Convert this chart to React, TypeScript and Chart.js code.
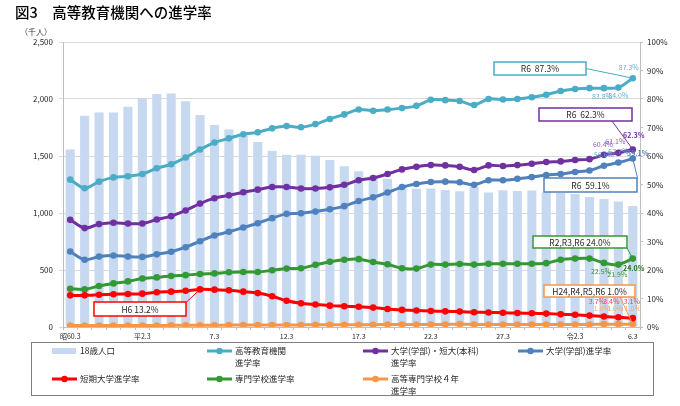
import React, { useEffect, useRef } from 'react';
import { Chart, registerables } from 'chart.js';

Chart.register(...registerables);

const FONT = '"Noto Sans CJK JP", "Noto Sans", sans-serif';

// 年度（3月卒業）
const categories = [
    '昭60.3', '61.3', '62.3', '63.3', '元.3', '平2.3', '3.3', '4.3', '5.3', '6.3',
    '7.3', '8.3', '9.3', '10.3', '11.3', '12.3', '13.3', '14.3', '15.3', '16.3',
    '17.3', '18.3', '19.3', '20.3', '21.3', '22.3', '23.3', '24.3', '25.3', '26.3',
    '27.3', '28.3', '29.3', '30.3', '31.3', '令2.3', '3.3', '4.3', '5.3', '6.3',
];
const shownTicks = [0, 5, 10, 15, 20, 25, 30, 35, 39];

// 18歳人口（千人）
const population = [
    1556, 1853, 1882, 1882, 1932, 2005, 2044, 2049, 1981, 1859,
    1773, 1732, 1680, 1622, 1545, 1510, 1511, 1502, 1465, 1411,
    1366, 1326, 1300, 1237, 1212, 1215, 1201, 1190, 1231, 1180,
    1200, 1193, 1198, 1180, 1175, 1167, 1141, 1122, 1100, 1061,
];

// 進学率（%）
const higherEdRate = [
    51.7, 48.7, 51.0, 52.5, 52.9, 53.7, 55.7, 57.1, 59.5, 62.3,
    64.7, 66.2, 67.6, 68.3, 69.7, 70.5, 70.1, 71.2, 73.0, 74.6,
    76.3, 75.9, 76.3, 76.8, 77.6, 79.7, 79.6, 79.3, 77.9, 80.0,
    79.8, 80.0, 80.6, 81.5, 82.8, 83.5, 83.8, 83.8, 84.0, 87.3,
];
const univJuniorRate = [
    37.6, 34.7, 36.1, 36.6, 36.3, 36.3, 37.7, 38.9, 40.9, 43.3,
    45.2, 46.2, 47.3, 48.2, 49.1, 49.1, 48.6, 48.6, 49.0, 49.9,
    51.5, 52.3, 53.7, 55.3, 56.2, 56.8, 56.7, 56.2, 55.1, 56.7,
    56.5, 56.8, 57.3, 57.9, 58.1, 58.6, 58.9, 60.4, 61.1, 62.3,
];
const univRate = [
    26.5, 23.6, 24.7, 25.1, 24.7, 24.6, 25.5, 26.4, 28.0, 30.1,
    32.1, 33.4, 34.9, 36.4, 38.2, 39.7, 39.9, 40.5, 41.3, 42.4,
    44.2, 45.5, 47.2, 49.1, 50.2, 50.9, 51.0, 50.8, 49.9, 51.5,
    51.5, 52.0, 52.6, 53.3, 53.7, 54.4, 54.9, 56.6, 57.7, 59.1,
];
const juniorCollegeRate = [
    11.1, 11.1, 11.3, 11.5, 11.6, 11.7, 12.2, 12.4, 12.7, 13.2,
    13.1, 12.9, 12.4, 11.9, 10.8, 9.2, 8.3, 7.9, 7.5, 7.3,
    7.1, 6.8, 6.3, 6.0, 5.8, 5.6, 5.5, 5.4, 5.2, 5.1,
    5.0, 4.9, 4.8, 4.7, 4.5, 4.3, 4.0, 3.7, 3.4, 3.1,
];
const vocationalRate = [
    13.4, 13.2, 14.4, 15.3, 16.0, 17.0, 17.4, 17.9, 18.2, 18.6,
    18.8, 19.2, 19.3, 19.3, 19.9, 20.5, 20.6, 21.8, 22.9, 23.6,
    23.8, 22.8, 22.0, 20.6, 20.5, 21.9, 21.9, 22.1, 21.9, 22.2,
    22.2, 22.2, 22.2, 22.4, 23.6, 24.0, 24.0, 22.5, 21.9, 24.0,
];
const kosenRate = [
    0.5, 0.5, 0.5, 0.5, 0.5, 0.5, 0.5, 0.6, 0.6, 0.6,
    0.6, 0.7, 0.7, 0.7, 0.7, 0.7, 0.7, 0.8, 0.8, 0.8,
    0.8, 0.8, 0.9, 0.9, 0.9, 0.9, 0.9, 1.0, 0.9, 0.9,
    0.9, 0.9, 0.9, 0.9, 0.9, 0.9, 0.9, 1.0, 1.0, 1.0,
];

const BAR_COLOR = '#c6d9f1';
const lineSeries = [
    { label: '高等教育機関進学率', data: higherEdRate, color: '#4bacc6' },
    { label: '大学(学部)・短大(本科)進学率', data: univJuniorRate, color: '#7030a0' },
    { label: '大学(学部)進学率', data: univRate, color: '#4f81bd' },
    { label: '短期大学進学率', data: juniorCollegeRate, color: '#ff0000' },
    { label: '専門学校進学率', data: vocationalRate, color: '#339933' },
    { label: '高等専門学校４年進学率', data: kosenRate, color: '#f79646' },
];

// dataset index: 0 = bars, 1.. = lineSeries
const callouts = [
    { ds: 1, idx: 39, prefix: 'R6  ', box: [494, 62, 92, 13], anchor: [586, 68.5] },
    { ds: 2, idx: 39, prefix: 'R6  ', box: [539, 108, 93, 13], anchor: [612, 121] },
    { ds: 3, idx: 39, prefix: 'R6  ', box: [544, 178, 93, 14], anchor: [637.5, 178] },
    { ds: 5, idx: 39, prefix: 'R2,R3,R6 ', box: [533, 236, 94, 12], anchor: [627, 248] },
    { ds: 6, idx: 39, prefix: 'H24,R4,R5,R6 ', box: [544, 285, 91, 12], anchor: [620, 297] },
    { ds: 4, idx: 9, prefix: 'H6 ', box: [94, 302, 92, 14], anchor: [186.5, 302] },
];

const pointLabels = [
    { ds: 1, idx: 37, dx: -2, dy: 8, color: '#62b3cf' },
    { ds: 1, idx: 38, dx: 0, dy: 8, color: '#62b3cf' },
    { ds: 1, idx: 39, dx: -4, dy: -11, color: '#62b3cf' },
    { ds: 2, idx: 37, dx: -1, dy: -11, color: '#8a5cbf' },
    { ds: 2, idx: 38, dx: -3, dy: -12, color: '#8a5cbf' },
    { ds: 2, idx: 39, dx: 1, dy: -14, color: '#7030a0', bold: true },
    { ds: 3, idx: 37, dx: 0, dy: -11, color: '#6f9fd8' },
    { ds: 3, idx: 38, dx: 0, dy: -11, color: '#6f9fd8' },
    { ds: 3, idx: 39, dx: 5, dy: -5, color: '#4f81bd', bold: true },
    { ds: 5, idx: 37, dx: -3, dy: 8, color: '#3a913a' },
    { ds: 5, idx: 38, dx: -1, dy: 10, color: '#3a913a' },
    { ds: 5, idx: 39, dx: 1, dy: 10, color: '#1f6f1f', bold: true },
    { ds: 4, idx: 37, dx: -7, dy: -15, color: '#e8474d' },
    { ds: 4, idx: 38, dx: -7, dy: -16, color: '#e8474d' },
    { ds: 4, idx: 39, dx: -1, dy: -17, color: '#e8474d' },
    { ds: 6, idx: 37, dx: -2, dy: -16, color: '#f6a35c' },
    { ds: 6, idx: 38, dx: -3, dy: -16, color: '#f6a35c' },
    { ds: 6, idx: 39, dx: 0, dy: -16, color: '#f6a35c' },
];

// legend: [column, row, text lines, series (-1 = bars)]
const legendItems: [number, number, string[], number][] = [
    [0, 0, ['18歳人口'], -1],
    [1, 0, ['高等教育機関', '進学率'], 0],
    [2, 0, ['大学(学部)・短大(本科)', '進学率'], 1],
    [3, 0, ['大学(学部)進学率'], 2],
    [0, 1, ['短期大学進学率'], 3],
    [1, 1, ['専門学校進学率'], 4],
    [2, 1, ['高等専門学校４年', '進学率'], 5],
];
const legendCols = [52, 207, 363, 518];
const legendRows = [351, 379];

const pct = (v: number) => `${v.toFixed(1)}%`;

const overlayPlugin = {
    id: 'overlay',
    afterDatasetsDraw(chart: any) {
        const ctx = chart.ctx as CanvasRenderingContext2D;
        const point = (ds: number, i: number) => chart.getDatasetMeta(ds).data[i];

        ctx.save();
        // callout boxes with leader lines
        for (const c of callouts) {
            const p = point(c.ds, c.idx);
            const color = lineSeries[c.ds - 1].color;
            const value = lineSeries[c.ds - 1].data[c.idx];
            ctx.strokeStyle = color;
            ctx.lineWidth = 1;
            ctx.beginPath();
            ctx.moveTo(c.anchor[0], c.anchor[1]);
            ctx.lineTo(p.x, p.y);
            ctx.stroke();
            const [bx, by, bw, bh] = c.box;
            ctx.fillStyle = '#ffffff';
            ctx.fillRect(bx, by, bw, bh);
            ctx.lineWidth = 1.5;
            ctx.strokeRect(bx, by, bw, bh);
            ctx.fillStyle = '#262626';
            ctx.font = `8.5px ${FONT}`;
            ctx.textAlign = 'center';
            ctx.textBaseline = 'middle';
            ctx.fillText(c.prefix + pct(value), bx + bw / 2, by + bh / 2 + 0.5);
        }

        // small value labels
        for (const l of pointLabels) {
            const p = point(l.ds, l.idx);
            const value = lineSeries[l.ds - 1].data[l.idx];
            ctx.fillStyle = l.color;
            ctx.font = `${l.bold ? 'bold ' : ''}7px ${FONT}`;
            ctx.textAlign = 'center';
            ctx.textBaseline = 'middle';
            ctx.fillText(pct(value), p.x + l.dx, p.y + l.dy);
        }
        ctx.restore();
    },
    afterDraw(chart: any) {
        const ctx = chart.ctx as CanvasRenderingContext2D;
        ctx.save();
        // title and unit
        ctx.fillStyle = '#000000';
        ctx.font = `500 14.5px ${FONT}`;
        ctx.textAlign = 'left';
        ctx.textBaseline = 'middle';
        ctx.fillText('図3　高等教育機関への進学率', 15, 12);
        ctx.fillStyle = '#404040';
        ctx.font = `8px ${FONT}`;
        ctx.fillText('（千人）', 20, 32);

        // legend frame
        ctx.strokeStyle = '#7f7f7f';
        ctx.lineWidth = 1;
        ctx.strokeRect(31.5, 342.5, 622, 53);

        for (const [col, row, lines, s] of legendItems) {
            const x = legendCols[col];
            const y = legendRows[row];
            if (s < 0) {
                ctx.fillStyle = BAR_COLOR;
                ctx.fillRect(x, y - 3, 24, 6);
            } else {
                const color = lineSeries[s].color;
                ctx.strokeStyle = color;
                ctx.lineWidth = 3;
                ctx.beginPath();
                ctx.moveTo(x, y);
                ctx.lineTo(x + 25, y);
                ctx.stroke();
                ctx.fillStyle = color;
                ctx.beginPath();
                ctx.arc(x + 12.5, y, 3.2, 0, Math.PI * 2);
                ctx.fill();
            }
            ctx.fillStyle = '#262626';
            ctx.font = `8.5px ${FONT}`;
            ctx.textAlign = 'left';
            ctx.textBaseline = 'middle';
            lines.forEach((t, k) => ctx.fillText(t, x + 28, y + k * 11.5));
        }
        ctx.restore();
    },
};

const App: React.FC = () => {
    const canvasRef = useRef<HTMLCanvasElement | null>(null);
    const chartRef = useRef<Chart | null>(null);

    useEffect(() => {
        if (!canvasRef.current) return;
        if (chartRef.current) chartRef.current.destroy();

        const datasets: any[] = [
            {
                type: 'bar',
                label: '18歳人口',
                data: population,
                backgroundColor: BAR_COLOR,
                barPercentage: 0.63,
                categoryPercentage: 1,
                yAxisID: 'y',
                order: 10,
            },
            ...lineSeries.map((s) => ({
                type: 'line',
                label: s.label,
                data: s.data,
                borderColor: s.color,
                backgroundColor: s.color,
                borderWidth: 3,
                pointRadius: 3.3,
                pointBorderWidth: 0,
                pointBackgroundColor: s.color,
                tension: 0.3,
                yAxisID: 'y1',
                order: 1,
            })),
        ];

        chartRef.current = new Chart(canvasRef.current, {
            type: 'bar',
            data: { labels: categories, datasets },
            options: {
                responsive: false,
                animation: false,
                layout: { padding: { top: 42, bottom: 63, left: 0, right: 0 } },
                plugins: { legend: { display: false }, tooltip: { enabled: false } },
                scales: {
                    x: {
                        afterFit: (s: any) => { s.height = 16; },
                        grid: { drawOnChartArea: false, drawTicks: true, tickLength: 3, color: '#bfbfbf' },
                        border: { color: '#bfbfbf' },
                        ticks: {
                            autoSkip: false,
                            maxRotation: 0,
                            padding: 2,
                            color: '#262626',
                            font: { family: FONT, size: 7 },
                            callback: (_v: any, i: number) => (shownTicks.includes(i) ? categories[i] : ''),
                        },
                    },
                    y: {
                        position: 'left',
                        min: 0,
                        max: 2500,
                        afterFit: (s: any) => { s.width = 63; },
                        grid: { color: '#d9d9d9', tickLength: 4 },
                        border: { color: '#bfbfbf' },
                        ticks: {
                            stepSize: 500,
                            padding: 6,
                            color: '#262626',
                            font: { family: FONT, size: 8 },
                            callback: (v: any) => Number(v).toLocaleString('en-US'),
                        },
                    },
                    y1: {
                        position: 'right',
                        min: 0,
                        max: 100,
                        afterFit: (s: any) => { s.width = 40; },
                        grid: { drawOnChartArea: false, tickLength: 3, color: '#bfbfbf' },
                        border: { color: '#bfbfbf' },
                        ticks: {
                            stepSize: 10,
                            padding: 4,
                            color: '#262626',
                            font: { family: FONT, size: 8 },
                            callback: (v: any) => `${v}%`,
                        },
                    },
                },
            } as any,
            plugins: [overlayPlugin],
        });

        return () => {
            if (chartRef.current) {
                chartRef.current.destroy();
                chartRef.current = null;
            }
        };
    }, []);

    return (
        <div style={{ position: 'absolute', left: 0, top: 0, width: 680, height: 406, background: '#fff' }}>
            <canvas ref={canvasRef} width={680} height={406} />
        </div>
    );
};

export default App;
